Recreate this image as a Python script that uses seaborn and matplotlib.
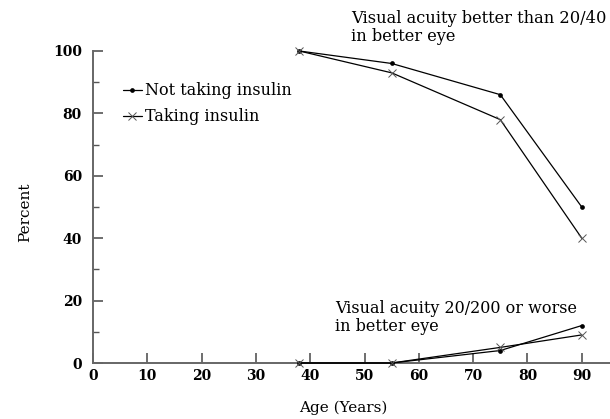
import matplotlib
matplotlib.use("Agg")
import matplotlib.pyplot as plt
from matplotlib.lines import Line2D
from matplotlib.ticker import MultipleLocator
import seaborn as sns
import pandas as pd

sns.set_theme(style="white")
plt.rcParams["font.family"] = ["DejaVu Serif"]
plt.rcParams["text.color"] = "black"

ages = [38, 55, 75, 90]
good_not_insulin = [100, 96, 86, 50]
good_insulin = [100, 93, 78, 40]
poor_not_insulin = [0, 0, 4, 12]
poor_insulin = [0, 0, 5, 9]

series_labels = ["Not taking insulin", "Taking insulin"]

fig = plt.figure(figsize=(6.10, 4.19), dpi=100)
ax = fig.add_axes([93 / 610, 56 / 419, 517 / 610, 312 / 419])

styles = {
    "Not taking insulin": dict(marker="o", markersize=3.4, markeredgewidth=0,
                               markerfacecolor="black"),
    "Taking insulin": dict(marker="x", markersize=6, markeredgewidth=0.7,
                           markeredgecolor="#555555"),
}

for vals, lab in [(good_not_insulin, series_labels[0]), (good_insulin, series_labels[1]),
                  (poor_not_insulin, series_labels[0]), (poor_insulin, series_labels[1])]:
    df = pd.DataFrame({"age": ages, "pct": vals})
    sns.lineplot(data=df, x="age", y="pct", ax=ax, color="black", linewidth=0.9,
                 zorder=5, clip_on=False, **styles[lab])

ax.set_xlim(0, 95.2)
ax.set_ylim(0, 100)
ax.xaxis.set_major_locator(MultipleLocator(10))
ax.yaxis.set_major_locator(MultipleLocator(20))
ax.yaxis.set_minor_locator(MultipleLocator(10))

for s in ["top", "right"]:
    ax.spines[s].set_visible(False)
for s in ["left", "bottom"]:
    ax.spines[s].set_color("#666666")
    ax.spines[s].set_linewidth(1.4)

ax.tick_params(axis="both", which="major", direction="in", length=7, width=1.2,
               color="#555555", labelsize=10, labelcolor="black", pad=4)
ax.tick_params(axis="y", which="minor", direction="in", length=4, width=1.0,
               color="#555555", left=True)
ax.tick_params(axis="x", which="major", bottom=True)
ax.tick_params(axis="y", which="major", left=True, pad=8)
ax.set_xticks(range(0, 100, 10))
ax.set_xticklabels([str(v) for v in range(0, 100, 10)])
for t in ax.get_xticklabels() + ax.get_yticklabels():
    t.set_fontweight("bold")

ax.set_xlabel("")
ax.set_ylabel("")
fig.text(343 / 610, 1 - 408 / 419, "Age (Years)", ha="center", va="center", fontsize=11)
fig.text(25 / 610, 1 - 212 / 419, "Percent", ha="center", va="center", fontsize=11,
         rotation=90)

ax.text(47.5, 113.3, "Visual acuity better than 20/40\nin better eye", ha="left",
        va="top", fontsize=11.7, linespacing=1.1)
ax.text(44.6, 20.3, "Visual acuity 20/200 or worse\nin better eye", ha="left",
        va="top", fontsize=11.5, linespacing=1.1)

handles = [Line2D([], [], color="black", linewidth=0.9, **styles[l]) for l in series_labels]
leg = ax.legend(handles, series_labels, loc="upper left", bbox_to_anchor=(0.045, 0.92),
                frameon=False, fontsize=11.5, handlelength=1.2, handletextpad=0.2,
                labelspacing=0.55, borderaxespad=0)

for t in ax.texts:
    t.set_clip_on(False)

fig.savefig("out.png", dpi=100)
